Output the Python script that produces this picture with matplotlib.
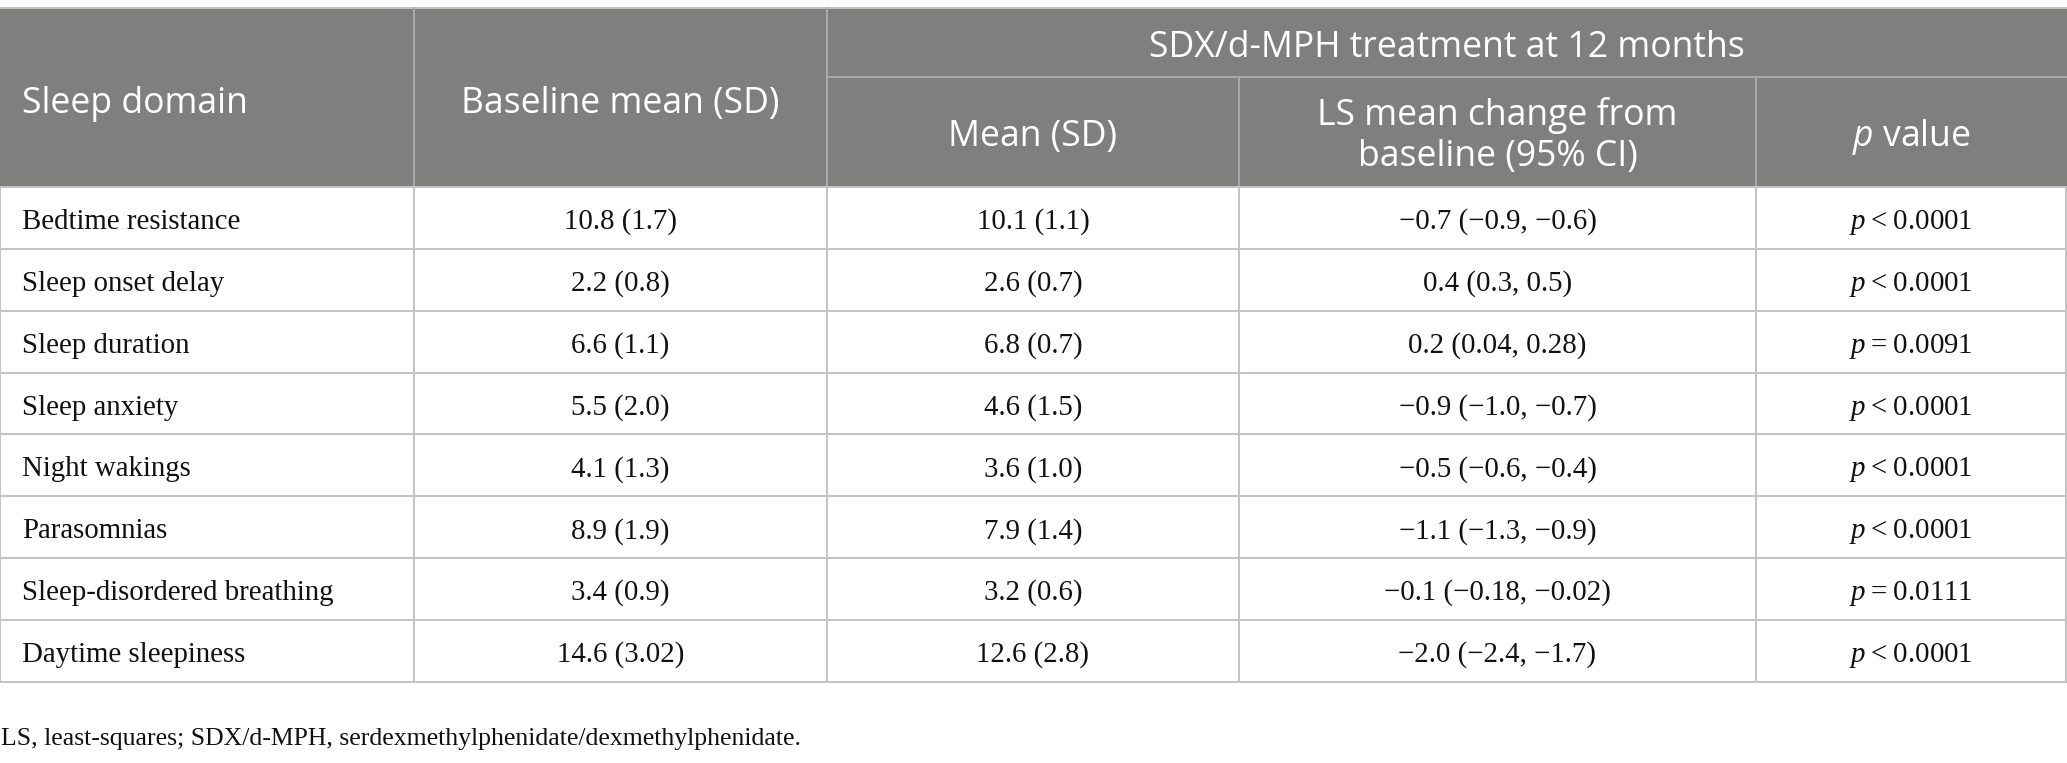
import matplotlib
matplotlib.use("Agg")
import matplotlib.pyplot as plt
from matplotlib.patches import Rectangle

plt.rcParams['mathtext.fontset'] = 'custom'
plt.rcParams['mathtext.it'] = 'Liberation Serif:italic'
plt.rcParams['mathtext.rm'] = 'Liberation Serif'
plt.rcParams['mathtext.sf'] = 'Open Sans:italic'

# table content
domains = ["Bedtime resistance", "Sleep onset delay", "Sleep duration", "Sleep anxiety",
           "Night wakings", "Parasomnias", "Sleep-disordered breathing", "Daytime sleepiness"]
baseline = ["10.8 (1.7)", "2.2 (0.8)", "6.6 (1.1)", "5.5 (2.0)",
            "4.1 (1.3)", "8.9 (1.9)", "3.4 (0.9)", "14.6 (3.02)"]
mean12 = ["10.1 (1.1)", "2.6 (0.7)", "6.8 (0.7)", "4.6 (1.5)",
          "3.6 (1.0)", "7.9 (1.4)", "3.2 (0.6)", "12.6 (2.8)"]
ls_change = ["\u22120.7 (\u22120.9, \u22120.6)", "0.4 (0.3, 0.5)", "0.2 (0.04, 0.28)",
             "\u22120.9 (\u22121.0, \u22120.7)", "\u22120.5 (\u22120.6, \u22120.4)",
             "\u22121.1 (\u22121.3, \u22120.9)", "\u22120.1 (\u22120.18, \u22120.02)",
             "\u22122.0 (\u22122.4, \u22121.7)"]
p_sign = ["<", "<", "=", "<", "<", "<", "=", "<"]
p_vals = ["0.0001", "0.0001", "0.0091", "0.0001", "0.0001", "0.0001", "0.0111", "0.0001"]

header_cols = ["Sleep domain", "Baseline mean (SD)"]
header_group = "SDX/d-MPH treatment at 12 months"
header_sub = ["Mean (SD)", ["LS mean change from", "baseline (95% CI)"], r"$\mathsf{p}$ value"]
footnote = "LS, least-squares; SDX/d-MPH, serdexmethylphenidate/dexmethylphenidate."

W, H = 2067, 763
fig = plt.figure(figsize=(W / 100, H / 100), dpi=100)
ax = fig.add_axes([0, 0, 1, 1])
ax.set_xlim(0, W)
ax.set_ylim(H, 0)
ax.axis('off')

col_x = [0, 414, 827, 1239, 1756, 2066]
top, mid, hbot = 8, 77, 187
row_h = 61.85
n = len(domains)
bottom = hbot + row_h * n

head_bg = '#7f807e'
line_c = '#c4c4c4'
head_line = '#a8a8a8'
lw = 1.45

sans = ['Open Sans', 'DejaVu Sans']
serif = ['Liberation Serif', 'DejaVu Serif']
hfs = 25.6
bfs = 20.8
ink = '#111111'

# header block
ax.add_patch(Rectangle((0, top), W, hbot - top, facecolor=head_bg, edgecolor='none'))
ax.plot([0, W], [top, top], color=line_c, lw=lw)
ax.plot([col_x[2], W], [mid, mid], color=head_line, lw=lw)
for x in col_x[1:3]:
    ax.plot([x, x], [top, hbot], color=head_line, lw=lw)
for x in col_x[3:5]:
    ax.plot([x, x], [mid, hbot], color=head_line, lw=lw)

ax.text(22, 113, header_cols[0], ha='left', va='baseline', color='white', fontsize=hfs, family=sans)
ax.text((col_x[1] + col_x[2]) / 2, 113, header_cols[1], ha='center', va='baseline',
        color='white', fontsize=hfs, family=sans)
ax.text((col_x[2] + W) / 2, 57, header_group, ha='center', va='baseline',
        color='white', fontsize=hfs, family=sans)
for i, lab in enumerate(header_sub):
    xc = (col_x[i + 2] + col_x[i + 3]) / 2
    if isinstance(lab, list):
        for k, part in enumerate(lab):
            ax.text(xc, 125 + 41 * k, part, ha='center', va='baseline',
                    color='white', fontsize=hfs, family=sans)
    else:
        ax.text(xc, 146, lab, ha='center', va='baseline', color='white', fontsize=hfs, family=sans)

# body
for i in range(n + 1):
    y = hbot + row_h * i
    ax.plot([0, W], [y, y], color=line_c, lw=lw)
for x in col_x:
    ax.plot([x, x], [hbot, bottom], color=line_c, lw=lw)

for i in range(n):
    yb = hbot + row_h * i + 42
    ax.text(22, yb, domains[i], ha='left', va='baseline', fontsize=bfs, family=serif, color=ink)
    cells = [baseline[i], mean12[i], ls_change[i],
             r"$\it{p}$" + "\u2009" + p_sign[i] + "\u2009" + p_vals[i]]
    for j, txt in enumerate(cells):
        ax.text((col_x[j + 1] + col_x[j + 2]) / 2, yb, txt, ha='center', va='baseline',
                fontsize=bfs, family=serif, color=ink)

ax.text(1, 745, footnote, ha='left', va='baseline', fontsize=18.5, family=serif, color=ink)

fig.savefig('out.png', dpi=100)
